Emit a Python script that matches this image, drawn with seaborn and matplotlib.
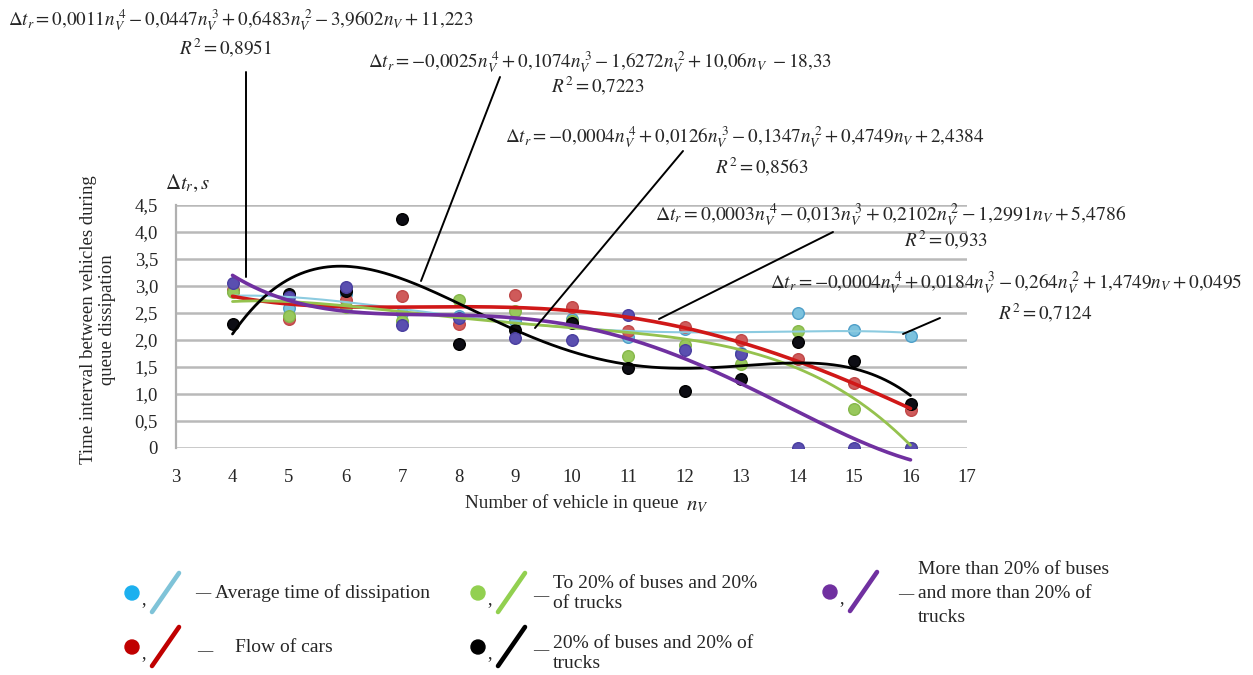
import numpy as np
import pandas as pd
import matplotlib
matplotlib.use("Agg")
import matplotlib.pyplot as plt
from matplotlib.lines import Line2D
from matplotlib.patches import Ellipse
import seaborn as sns

# Number of vehicle in queue
n_v = [4, 5, 6, 7, 8, 9, 10, 11, 12, 13, 14, 15, 16]

# Time interval between vehicles during queue dissipation, s
avg_time = [2.90, 2.60, 2.85, 2.50, 2.45, 2.35, 2.38, 2.05, 2.20, 1.76, 2.50, 2.18, 2.07]
cars = [2.92, 2.38, 2.75, 2.81, 2.30, 2.84, 2.62, 2.17, 2.25, 2.00, 1.64, 1.20, 0.71]
to20 = [2.88, 2.44, 2.62, 2.35, 2.75, 2.53, 2.35, 1.70, 1.90, 1.55, 2.16, 0.72, 0.00]
b20t20 = [2.30, 2.85, 2.90, 4.25, 1.93, 2.19, 2.31, 1.49, 1.05, 1.28, 1.96, 1.62, 0.82]
over20 = [3.05, 2.80, 2.98, 2.28, 2.40, 2.04, 2.00, 2.47, 1.82, 1.74, 0.00, 0.00, 0.00]

series_names = ["avg", "cars", "to20", "b20t20", "over20"]
series_vals = [avg_time, cars, to20, b20t20, over20]

point_colors = ["#7cc2de", "#cf5a5a", "#98c85c", "#0d0d14", "#5a4fb0"]
point_edges = ["#4f9fc8", "#c04848", "#86b84a", "#000000", "#4a3fa0"]
line_colors = ["#8ccbe0", "#d01818", "#95c24e", "#000000", "#7030a0"]
line_widths = [1.5, 2.6, 2.0, 2.0, 2.6]

y_ticks = [0, 0.5, 1.0, 1.5, 2.0, 2.5, 3.0, 3.5, 4.0, 4.5]
y_tick_labels = ["0", "0,5", "1,0", "1,5", "2,0", "2,5", "3,0", "3,5", "4,0", "4,5"]
x_ticks = list(range(3, 18))

equations = [
    r"$\Delta t_r = 0{,}0011n_V^{\ 4} - 0{,}0447n_V^{\ 3} + 0{,}6483n_V^{\ 2} - 3{,}9602n_V + 11{,}223$",
    r"$\Delta t_r = -0{,}0025n_V^{\ 4} + 0{,}1074n_V^{\ 3} - 1{,}6272n_V^{\ 2} + 10{,}06n_V\ - 18{,}33$",
    r"$\Delta t_r = -0{,}0004n_V^{\ 4} + 0{,}0126n_V^{\ 3} - 0{,}1347n_V^{\ 2} + 0{,}4749n_V + 2{,}4384$",
    r"$\Delta t_r = 0{,}0003n_V^{\ 4} - 0{,}013n_V^{\ 3} + 0{,}2102n_V^{\ 2} - 1{,}2991n_V + 5{,}4786$",
    r"$\Delta t_r = -0{,}0004n_V^{\ 4} + 0{,}0184n_V^{\ 3} - 0{,}264n_V^{\ 2} + 1{,}4749n_V + 0{,}0495$",
]
r_squared = ["0{,}8951", "0{,}7223", "0{,}8563", "0{,}933", "0{,}7124"]

sns.set_style("white")
plt.rcParams["font.family"] = ["Liberation Serif", "DejaVu Serif"]
plt.rcParams["mathtext.fontset"] = "stix"

W, H = 1253, 675
fig = plt.figure(figsize=(W / 100, H / 100), dpi=100)


def fx(x):
    return x / W


def fy(y):
    return 1 - y / H


ax = fig.add_axes([fx(176), fy(448), fx(967) - fx(176), fy(205) - fy(448)])

# scatter points and 4th-order polynomial trend lines
rows = []
for name, vals in zip(series_names, series_vals):
    for n, v in zip(n_v, vals):
        rows.append({"n": n, "t": v, "series": name})
df = pd.DataFrame(rows)

n_fine = np.linspace(min(n_v), max(n_v), 300)
fit_rows = []
for name, vals in zip(series_names, series_vals):
    coef = np.polyfit(n_v, vals, 4)
    for n, v in zip(n_fine, np.polyval(coef, n_fine)):
        fit_rows.append({"n": n, "t": v, "series": name})
fit_df = pd.DataFrame(fit_rows)

for i, name in enumerate(series_names):
    sub = df[df.series == name]
    sns.scatterplot(data=sub, x="n", y="t", ax=ax, color=point_colors[i],
                    edgecolor=point_edges[i], linewidth=1.0, s=70, zorder=3,
                    legend=False)
for i, name in enumerate(series_names):
    sub = fit_df[fit_df.series == name]
    sns.lineplot(data=sub, x="n", y="t", ax=ax, color=line_colors[i],
                 linewidth=line_widths[i], zorder=4, legend=False,
                 clip_on=False)

ax.set_xlim(3, 17)
ax.set_ylim(0, 4.5)
ax.set_yticks(y_ticks)
ax.set_yticklabels(y_tick_labels)
ax.set_xticks(x_ticks)
ax.set_xticklabels([str(t) for t in x_ticks])
ax.yaxis.grid(True, color="#b9b9b9", linewidth=1.8)
ax.xaxis.grid(False)
ax.set_axisbelow(True)
for side in ["top", "right", "bottom"]:
    ax.spines[side].set_visible(False)
ax.spines["left"].set_color("#b0b0b0")
ax.spines["left"].set_linewidth(1.6)
ax.spines["left"].set_bounds(0, 4.5)
ax.tick_params(axis="y", direction="out", length=6, width=1.2, color="#a0a0a0",
               labelsize=13.5, pad=7)
ax.tick_params(axis="x", direction="out", length=6, width=1.2, color="#a0a0a0",
               labelsize=13.5, pad=9)
ax.set_xlabel("")
ax.set_ylabel("")

# axis titles
fig.text(fx(98), fy(320), "Time interval between vehicles during\nqueue dissipation",
         rotation=90, ha="center", va="center", fontsize=13.5, linespacing=1.1)
fig.text(fx(165), fy(183), r"$\Delta t_r, s$", ha="left", va="center", fontsize=15)
fig.text(fx(465), fy(503), "Number of vehicle in queue", ha="left", va="center",
         fontsize=13.8)
fig.text(fx(686), fy(506), r"$n_V$", ha="left", va="center", fontsize=15)

# trend line equations
eq_pos = [(8, 20), (368, 62), (505, 137), (655, 215), (770, 283)]
r2_pos = [(225, 48), (598, 86), (762, 167), (946, 240), (1045, 313)]
eq_sizes = [13.8, 13.8, 13.8, 14.2, 13.9]
for eq, (x, y), fs in zip(equations, eq_pos, eq_sizes):
    fig.text(fx(x), fy(y), eq, ha="left", va="center", fontsize=fs)
for r2, (x, y) in zip(r_squared, r2_pos):
    fig.text(fx(x), fy(y), r"$R^2 = " + r2 + "$", ha="center", va="center", fontsize=13.8)

# leader lines
leaders = [((246, 72), (246, 277)), ((500, 77), (421, 281)), ((683, 151), (535, 328)),
           ((833, 232), (659, 319)), ((940, 318), (903, 334))]
for (x0, y0), (x1, y1) in leaders:
    fig.add_artist(Line2D([fx(x0), fx(x1)], [fy(y0), fy(y1)], color="black",
                          linewidth=1.4, zorder=10))

# legend: marker dot, comma, line stroke, dash and caption
legend_items = [
    (132, 593, "#1cb0ef", "#7fc3d8", ["Average time of dissipation"]),
    (478, 593, "#92d050", "#92d050", ["To 20% of buses and 20%", "of trucks"]),
    (830, 592, "#7030a0", "#7030a0", ["More than 20% of buses", "and more than 20% of", "trucks"]),
    (132, 647, "#c00000", "#c00000", ["Flow of cars"]),
    (478, 647, "#000000", "#000000", ["20% of buses and 20% of", "trucks"]),
]
LEG_FS = 14
for cx, cy, dot_c, line_c, lines in legend_items:
    fig.add_artist(Ellipse((fx(cx), fy(cy)), 14 / W, 14 / H, color=dot_c, zorder=10))
    fig.text(fx(cx + 9), fy(cy + 7), ",", ha="left", va="center", fontsize=13)
    fig.add_artist(Line2D([fx(cx + 20), fx(cx + 47)], [fy(cy + 19), fy(cy - 20)],
                          color=line_c, linewidth=3.3, solid_capstyle="round", zorder=10))
    if len(lines) == 1 and cy == 593:
        fig.text(fx(cx + 63), fy(cy + 1), "\u2014", ha="left", va="center", fontsize=11)
        fig.text(fx(cx + 83), fy(cy), lines[0], ha="left", va="center", fontsize=LEG_FS)
    elif len(lines) == 1:
        fig.text(fx(cx + 65), fy(cy + 5), "\u2014", ha="left", va="center", fontsize=11)
        fig.text(fx(cx + 103), fy(cy), lines[0], ha="left", va="center", fontsize=LEG_FS)
    elif len(lines) == 2:
        top = cy - 10 if cy == 593 else cy - 4
        fig.text(fx(cx + 55), fy(cy + 4), "\u2014", ha="left", va="center", fontsize=11)
        fig.text(fx(cx + 75), fy(top), lines[0], ha="left", va="center", fontsize=LEG_FS)
        fig.text(fx(cx + 75), fy(top + 21), lines[1], ha="left", va="center", fontsize=LEG_FS)
    else:
        fig.text(fx(cx + 68), fy(cy + 3), "\u2014", ha="left", va="center", fontsize=11)
        fig.text(fx(cx + 88), fy(cy - 23), lines[0], ha="left", va="center", fontsize=LEG_FS)
        fig.text(fx(cx + 88), fy(cy + 2), lines[1], ha="left", va="center", fontsize=LEG_FS)
        fig.text(fx(cx + 88), fy(cy + 25), lines[2], ha="left", va="center", fontsize=LEG_FS)

fig.savefig("out.png", dpi=100)
